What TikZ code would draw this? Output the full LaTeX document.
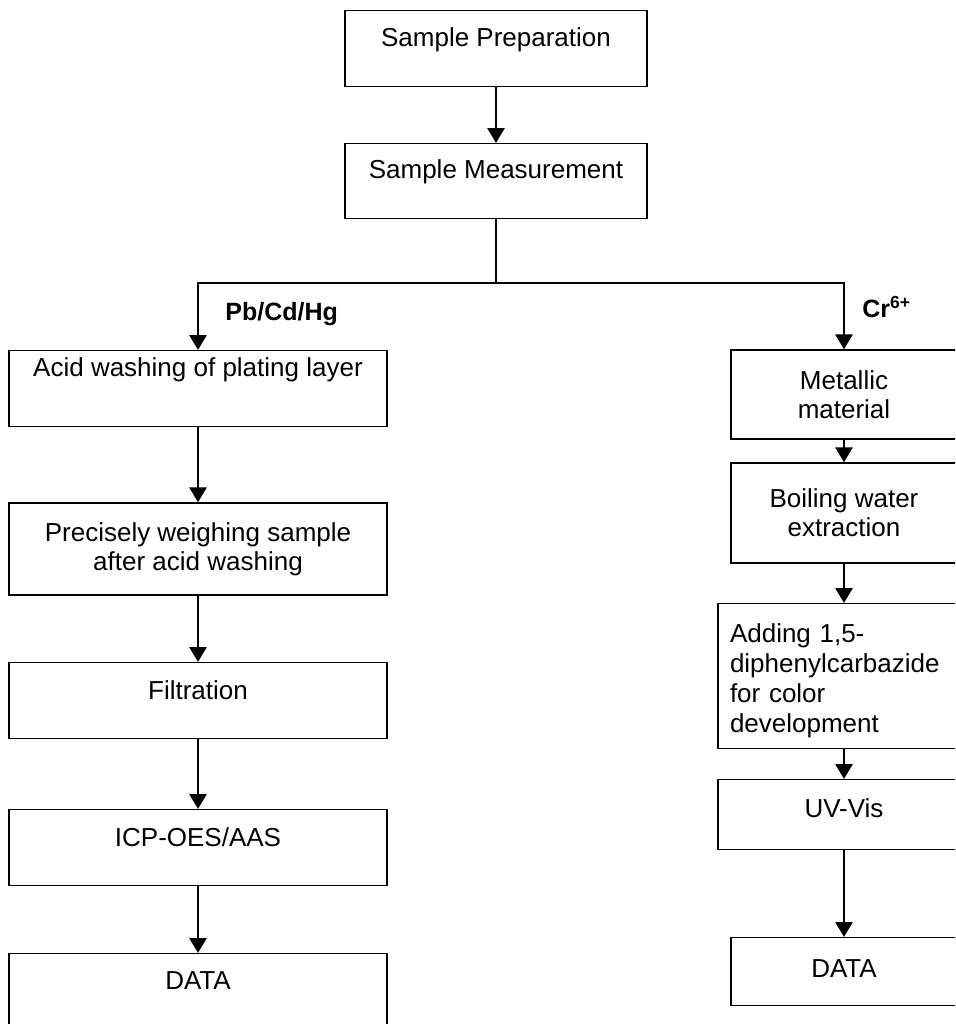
\documentclass[tikz,border=0pt]{standalone}
\usepackage{fontspec}
\setmainfont{Liberation Sans}
\usetikzlibrary{arrows.meta}
\tikzset{
	stepbox/.style={draw, line width=0.65pt, inner sep=0pt, font=\fontsize{13pt}{14.5pt}\selectfont},
	flow/.style={line width=1.4pt, -{Triangle[width=8.5pt,length=7.5pt]}},
	branch/.style={inner sep=0pt, font=\bfseries\fontsize{12.5pt}{14pt}\selectfont}
}

\begin{document}
\begin{tikzpicture}[x=0.5pt, y=-0.5pt]
		\useasboundingbox (0,0) rectangle (955,1024);
		\clip (0,0) rectangle (955,1024);
		% common trunk
		\node [stepbox, anchor=north, minimum width=151pt, text height=18pt, text depth=20pt](Preparation) at (496,10) {Sample Preparation};
		\node [stepbox, anchor=north, minimum width=151pt, text height=17.5pt, text depth=20pt](Measurement) at (496,143) {Sample Measurement};
		\coordinate (fork) at (496,283);
		% Pb/Cd/Hg branch
		\node [stepbox, anchor=north, minimum width=189pt, text height=13pt, text depth=25pt](Acid) at (198,350) {Acid washing of plating layer};
		\node [stepbox, align=center, minimum width=189pt, minimum height=46pt](Weighing) at (198,549) {Precisely weighing sample\\after acid washing};
		\node [stepbox, anchor=north, minimum width=189pt, text height=18.5pt, text depth=19.5pt](Filtration) at (198,662) {Filtration};
		\node [stepbox, anchor=north, minimum width=189pt, text height=18.5pt, text depth=19.5pt](ICP) at (198,809) {ICP-OES/AAS};
		\node [stepbox, anchor=north, minimum width=189pt, text height=18pt, text depth=20.5pt](DataLeft) at (198,953) {DATA};
		% Cr branch
		\node [stepbox, align=center, minimum width=113pt, minimum height=44.5pt](Metallic) at (844,394.5) {Metallic\\material};
		\node [stepbox, align=center, minimum width=113pt, minimum height=50pt](Boiling) at (844,513) {Boiling water\\extraction};
		\node [stepbox, anchor=north, align=left, text width=114pt, inner xsep=6pt, font=\fontsize{13pt}{15pt}\selectfont, text height=19.5pt, text depth=53pt](Adding) at (844,603) {Adding 1,5-\\diphenylcarbazide\\for color\\development};
		\node [stepbox, anchor=north, minimum width=126pt, text height=19pt, text depth=16pt](UVVis) at (844,779) {UV-Vis};
		\node [stepbox, anchor=north, minimum width=113pt, text height=20pt, text depth=14pt](DataRight) at (844,937) {DATA};
		% labels
		\node [branch, anchor=base west](PbCdHg) at (225,320) {Pb/Cd/Hg};
		\node [branch, anchor=base west](Cr) at (862,317) {Cr\textsuperscript{6+}};
		% connectors
		\draw [flow](Preparation)--(Measurement);
		\draw [line width=1.4pt](Measurement)--(fork);
		\draw [flow](fork)-|(Acid);
		\draw [flow](fork)-|(Metallic);
		\draw [flow](Acid)--(Weighing);
		\draw [flow](Weighing)--(Filtration);
		\draw [flow](Filtration)--(ICP);
		\draw [flow](ICP)--(DataLeft);
		\draw [flow](Metallic)--(Boiling);
		\draw [flow](Boiling)--(Adding);
		\draw [flow](Adding)--(UVVis);
		\draw [flow](UVVis)--(DataRight);
	\end{tikzpicture}
\end{document}
